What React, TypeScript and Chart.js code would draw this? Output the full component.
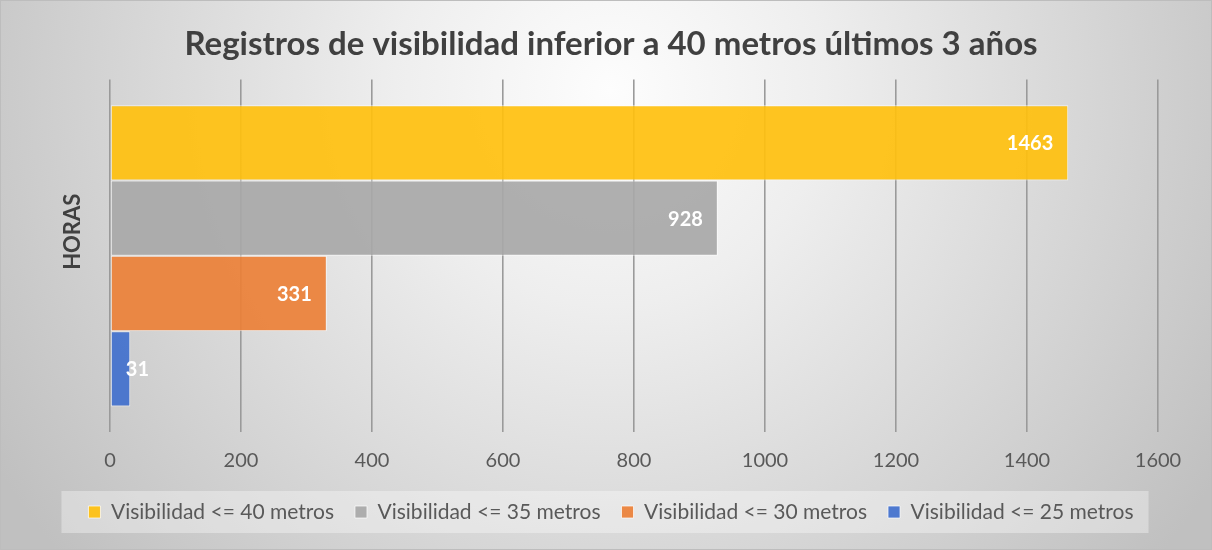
import { useEffect, useRef } from 'react';
import { Chart, registerables } from 'chart.js';

Chart.register(...registerables);

const categories = ['HORAS'];
const seriesLabels = [
  'Visibilidad <= 40 metros',
  'Visibilidad <= 35 metros',
  'Visibilidad <= 30 metros',
  'Visibilidad <= 25 metros',
];
const values40 = [1463];
const values35 = [928];
const values30 = [331];
const values25 = [31];
const xTickValues = [0, 200, 400, 600, 800, 1000, 1200, 1400, 1600];

const seriesColors = [
  'rgba(255,192,14,0.92)',
  'rgba(168,168,168,0.92)',
  'rgba(235,128,55,0.92)',
  'rgba(65,112,205,0.92)',
];

const FONT = 'Lato';

const backgroundPlugin = {
  id: 'bgPlugin',
  beforeDraw(chart: any) {
    const { ctx, width, height } = chart;
    ctx.save();
    const g = ctx.createRadialGradient(610, 90, 0, 610, 90, 720);
    g.addColorStop(0, '#fdfdfd');
    g.addColorStop(0.3, '#eeeeee');
    g.addColorStop(1, '#c0c0c0');
    ctx.fillStyle = g;
    ctx.fillRect(0, 0, width, height);
    ctx.strokeStyle = '#bdbdbd';
    ctx.lineWidth = 1;
    ctx.strokeRect(0.5, 0.5, width - 1, height - 1);
    const legend = chart.legend;
    if (legend && legend.legendHitBoxes && legend.legendHitBoxes.length) {
      const boxes = legend.legendHitBoxes;
      let minL = Infinity;
      let maxR = -Infinity;
      let cy = 0;
      boxes.forEach((b: any) => {
        minL = Math.min(minL, b.left);
        maxR = Math.max(maxR, b.left + b.width);
        cy = b.top + b.height / 2;
      });
      ctx.fillStyle = 'rgba(255,255,255,0.35)';
      ctx.fillRect(minL - 27, cy - 21, maxR - minL + 42, 42);
    }
    ctx.restore();
  },
};

const dataLabelPlugin = {
  id: 'dataLabels',
  afterDatasetsDraw(chart: any) {
    const ctx = chart.ctx;
    ctx.save();
    ctx.font = `bold 20px ${FONT}`;
    ctx.fillStyle = '#ffffff';
    ctx.textBaseline = 'middle';
    ctx.textAlign = 'right';
    chart.data.datasets.forEach((ds: any, i: number) => {
      const meta = chart.getDatasetMeta(i);
      meta.data.forEach((el: any, j: number) => {
        const { x, y, base } = el.getProps(['x', 'y', 'base'], true);
        const text = String(ds.data[j]);
        const w = ctx.measureText(text).width;
        const right = Math.max(x - 15, base + 15 + w);
        ctx.fillText(text, right, y + 1);
      });
    });
    ctx.restore();
  },
};

export default function App() {
  const canvasRef = useRef<HTMLCanvasElement | null>(null);

  useEffect(() => {
    if (!canvasRef.current) return;
    const seriesValues = [values40, values35, values30, values25];
    const chart = new Chart(canvasRef.current, {
      type: 'bar',
      data: {
        labels: categories,
        datasets: seriesLabels.map((label, i) => ({
          label,
          data: seriesValues[i],
          backgroundColor: seriesColors[i],
          borderColor: 'rgba(255,255,255,0.7)',
          borderWidth: 1,
          borderSkipped: false,
          categoryPercentage: 0.855,
          barPercentage: 1,
        })),
      },
      options: {
        indexAxis: 'y',
        animation: false,
        responsive: false,
        devicePixelRatio: 1,
        layout: { padding: { left: 64, right: 54, top: 0, bottom: 17.5 } },
        plugins: {
          tooltip: { enabled: false },
          title: {
            display: true,
            text: 'Registros de visibilidad inferior a 40 metros últimos 3 años',
            color: '#404040',
            font: { family: FONT, size: 33, weight: 'bold', lineHeight: 1.2 },
            padding: { top: 25, bottom: 15 },
          },
          legend: {
            position: 'bottom',
            labels: {
              color: '#595959',
              font: { family: FONT, size: 21 },
              boxWidth: 12,
              boxHeight: 12,
              padding: 21,
            },
          },
        },
        scales: {
          x: {
            type: 'linear',
            min: 0,
            max: 1600,
            afterBuildTicks: (scale: any) => {
              scale.ticks = xTickValues.map((v) => ({ value: v }));
            },
            afterFit: (scale: any) => {
              scale.height = 48.5;
            },
            grid: { color: '#9a9a9a', lineWidth: 1.6, drawTicks: false },
            border: { display: false },
            ticks: {
              color: '#595959',
              font: { family: FONT, size: 20 },
              padding: 17,
              callback: (v: any) => String(v),
            },
          },
          y: {
            type: 'category',
            afterFit: (scale: any) => {
              scale.width = 46;
            },
            grid: { display: false },
            border: { display: false },
            ticks: { display: false },
            title: {
              display: true,
              text: '         HORAS',
              color: '#404040',
              font: { family: FONT, size: 22, weight: 'bold', lineHeight: 0.8 },
              padding: { top: 0, bottom: 0 },
            },
          },
        },
      },
      plugins: [backgroundPlugin, dataLabelPlugin],
    } as any);
    return () => chart.destroy();
  }, []);

  return (
    <div style={{ position: 'absolute', left: 0, top: 0, width: 1212, height: 550 }}>
      <canvas ref={canvasRef} width={1212} height={550} />
    </div>
  );
}
